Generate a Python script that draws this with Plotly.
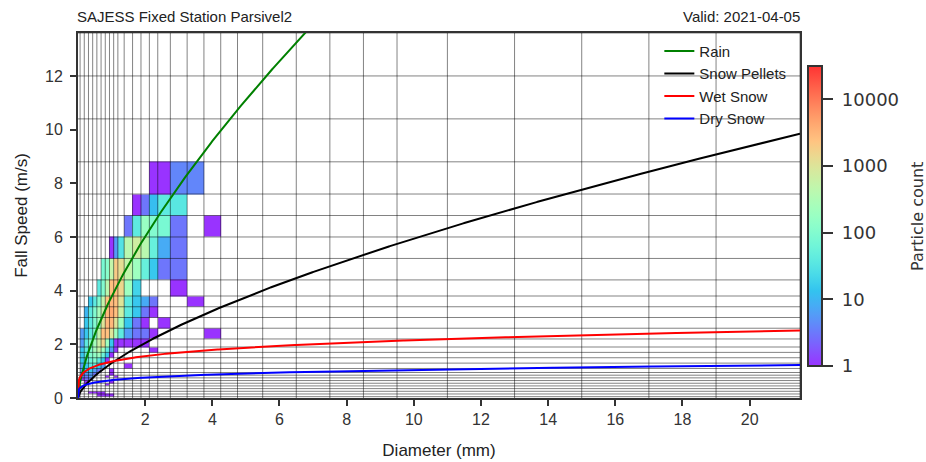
import numpy as np
import plotly.graph_objects as go

# ---------------- data ----------------
# Parsivel2 class centres (used as mesh edges, as in the original pcolormesh)
diam_centers = [0.062, 0.187, 0.312, 0.437, 0.562, 0.687, 0.812, 0.937, 1.062, 1.187,
                1.375, 1.625, 1.875, 2.125, 2.375, 2.75, 3.25, 3.75, 4.25, 4.75,
                5.5, 6.5, 7.5, 8.5, 9.5, 11.0, 13.0, 15.0, 17.0, 19.0, 21.5, 24.5]
vel_centers = [0.05, 0.15, 0.25, 0.35, 0.45, 0.55, 0.65, 0.75, 0.85, 0.95,
               1.1, 1.3, 1.5, 1.7, 1.9, 2.2, 2.6, 3.0, 3.4, 3.8,
               4.4, 5.2, 6.0, 6.8, 7.6, 8.8, 10.4, 12.0, 13.6, 15.2, 17.6, 20.8]

# particle counts: rows = velocity cells (from 0.05 m/s upward), cols = diameter cells (0 = empty)
counts = [
    [0, 0, 0, 0, 1, 1, 1, 1, 0, 0, 0, 0, 0, 0, 0, 0, 0, 0, 0],
    [0, 0, 1, 1, 1, 1, 0, 0, 0, 0, 0, 0, 0, 0, 0, 0, 0, 0, 0],
    [0, 0, 0, 0, 0, 0, 0, 0, 0, 0, 0, 0, 0, 0, 0, 0, 0, 0, 0],
    [0, 0, 0, 0, 0, 0, 0, 0, 0, 0, 0, 0, 0, 0, 0, 0, 0, 0, 0],
    [0, 0, 0, 0, 0, 0, 1, 0, 0, 0, 0, 0, 0, 0, 0, 0, 0, 0, 0],
    [0, 1, 0, 0, 0, 0, 0, 1, 0, 0, 0, 0, 0, 0, 0, 0, 0, 0, 0],
    [1, 3, 3, 0, 0, 0, 0, 0, 0, 0, 0, 0, 0, 0, 0, 0, 0, 0, 0],
    [3, 3, 6, 0, 0, 0, 1, 0, 1, 0, 0, 0, 0, 0, 0, 0, 0, 0, 0],
    [3, 6, 6, 3, 0, 0, 0, 1, 0, 0, 0, 0, 0, 0, 0, 0, 0, 0, 0],
    [6, 15, 15, 6, 3, 0, 0, 1, 0, 0, 0, 0, 0, 0, 0, 0, 0, 0, 0],
    [6, 15, 40, 40, 15, 6, 0, 0, 0, 0, 1, 0, 0, 0, 0, 0, 0, 0, 0],
    [15, 40, 60, 100, 40, 15, 1, 0, 0, 0, 0, 0, 0, 0, 0, 0, 0, 0, 0],
    [15, 40, 100, 150, 200, 60, 15, 1, 0, 0, 0, 0, 0, 0, 0, 0, 0, 0, 0],
    [15, 40, 100, 250, 500, 200, 40, 6, 1, 0, 0, 0, 0, 1, 0, 0, 0, 0, 0],
    [6, 40, 100, 250, 600, 1500, 200, 15, 1, 1, 1, 1, 1, 0, 0, 0, 0, 0, 0],
    [6, 15, 40, 100, 500, 2500, 2500, 1000, 200, 40, 6, 3, 3, 1, 0, 0, 0, 1, 0],
    [0, 15, 40, 100, 200, 1000, 3000, 3000, 1000, 200, 15, 3, 1, 0, 1, 0, 0, 0, 0],
    [0, 10, 40, 100, 250, 600, 3000, 4000, 2500, 600, 40, 15, 3, 1, 0, 0, 0, 0, 0],
    [0, 0, 15, 40, 100, 500, 2500, 3000, 2500, 1000, 40, 15, 8, 3, 0, 0, 1, 0, 0],
    [0, 0, 0, 0, 40, 100, 400, 2500, 2500, 1500, 200, 20, 0, 0, 0, 1, 0, 0, 0],
    [0, 0, 0, 0, 0, 80, 120, 500, 2000, 1200, 500, 200, 50, 15, 3, 3, 0, 0, 0],
    [0, 0, 0, 0, 0, 0, 0, 1, 6, 30, 400, 700, 400, 50, 8, 3, 0, 0, 0],
    [0, 0, 0, 0, 0, 0, 0, 0, 0, 0, 3, 40, 180, 100, 80, 3, 0, 1, 0],
    [0, 0, 0, 0, 0, 0, 0, 0, 0, 0, 0, 1, 3, 12, 40, 35, 0, 0, 0],
    [0, 0, 0, 0, 0, 0, 0, 0, 0, 0, 0, 0, 0, 1, 1, 4, 4, 0, 0],
]

# fall-speed relations V = a * D**b  (a, b)
curve_names = ["Rain", "Snow Pellets", "Wet Snow", "Dry Snow"]
curve_coefs = [(3.78, 0.67), (1.3, 0.66), (1.36, 0.20), (0.665, 0.20)]
curve_colors = ["green", "black", "red", "blue"]

x_ticks = [2, 4, 6, 8, 10, 12, 14, 16, 18, 20]
y_ticks = [0, 2, 4, 6, 8, 10, 12]
cbar_vals = [0, 1, 2, 3, 4]
cbar_text = ["1", "10", "100", "1000", "10000"]

X_MAX, Y_MAX = 21.5, 13.6

# ---------------- build ----------------
nx, ny = len(diam_centers) - 1, len(vel_centers) - 1
z = np.full((ny, nx), np.nan)
for j, row in enumerate(counts):
    for i, c in enumerate(row):
        if c > 0:
            z[j, i] = np.log10(c)

# matplotlib 'rainbow' drawn with alpha 0.8 on white
def rainbow(t):
    r = min(1, abs(2 * t - 0.5))
    g = np.sin(np.pi * t)
    b = np.cos(np.pi * t / 2)
    a = 0.8
    return "rgb(%d,%d,%d)" % tuple(int(round(255 * (a * v + (1 - a)))) for v in (r, g, b))

cscale = [[t, rainbow(t)] for t in np.linspace(0, 1, 41)]
NB = "\u00a0"

fig = go.Figure()
fig.add_trace(go.Heatmap(
    x=diam_centers, y=vel_centers, z=z, zmin=0, zmax=4.5,
    colorscale=cscale, hoverongaps=False,
    colorbar=dict(
        tickvals=cbar_vals, ticktext=[NB + t for t in cbar_text], ticks="outside", ticklen=10,
        tickwidth=1.5, tickcolor="#333", outlinecolor="#333", outlinewidth=2,
        thickness=14, thicknessmode="pixels", len=300 / 365, lenmode="fraction",
        x=1.011, xanchor="left", y=0.4986, yanchor="middle", xpad=0, ypad=0,
        tickfont=dict(family="DejaVu Sans", size=18, color="#333"),
    ),
))

# grid lines at class centres, drawn above the mesh
gx, gy = [], []
for d in diam_centers:
    if d <= X_MAX:
        gx += [d, d, None]
        gy += [0, Y_MAX, None]
for v in vel_centers:
    if v <= Y_MAX:
        gx += [0, X_MAX, None]
        gy += [v, v, None]
fig.add_trace(go.Scatter(x=gx, y=gy, mode="lines", showlegend=False, hoverinfo="skip",
                         line=dict(color="rgba(0,0,0,0.62)", width=0.8)))

d_curve = np.linspace(0, X_MAX, 700)
for name, (a, b), col in zip(curve_names, curve_coefs, curve_colors):
    fig.add_trace(go.Scatter(x=d_curve, y=a * d_curve ** b, mode="lines", name=name,
                             line=dict(color=col, width=2)))

axis_common = dict(showline=True, mirror=True, linecolor="#333", linewidth=2,
                   ticks="outside", ticklen=6, tickwidth=1.5, tickcolor="#333",
                   showgrid=False, zeroline=False, automargin=False,
                   tickfont=dict(family="Liberation Sans", size=16, color="#333"))
fig.update_xaxes(range=[0, X_MAX], tickvals=x_ticks,
                 title=dict(text="Diameter (mm)", standoff=17,
                            font=dict(family="Liberation Sans", size=17, color="#222")),
                 **axis_common)
fig.update_yaxes(range=[0, Y_MAX], tickvals=y_ticks, ticklabelstandoff=4,
                 title=dict(text="Fall Speed (m/s)", standoff=13,
                            font=dict(family="Liberation Sans", size=17, color="#222")),
                 **axis_common)

fig.update_layout(
    width=926, height=462, autosize=False,
    margin=dict(l=78, r=126, t=33, b=64),
    paper_bgcolor="white", plot_bgcolor="white",
    legend=dict(x=0.988, y=0.995, xanchor="right", yanchor="top", bgcolor="rgba(0,0,0,0)",
                font=dict(family="Liberation Sans", size=15, color="#222")),
    annotations=[
        dict(text="SAJESS Fixed Station Parsivel2", x=0, y=1.044, xref="paper", yref="paper",
             xanchor="left", yanchor="middle", showarrow=False, xshift=-3,
             font=dict(family="Liberation Sans", size=15, color="#222")),
        dict(text="Valid: 2021-04-05", x=1, y=1.044, xref="paper", yref="paper",
             xanchor="right", yanchor="middle", showarrow=False, xshift=2,
             font=dict(family="Liberation Sans", size=15, color="#222")),
        dict(text="Particle count", x=(917 - 78) / 722, y=(398 - 216) / 365,
             xref="paper", yref="paper", xanchor="center", yanchor="middle",
             showarrow=False, textangle=-90,
             font=dict(family="DejaVu Sans", size=16, color="#333")),
    ],
)

fig.write_html("out.html", config={"displayModeBar": False},
               post_script="document.body.style.margin='0px';")
